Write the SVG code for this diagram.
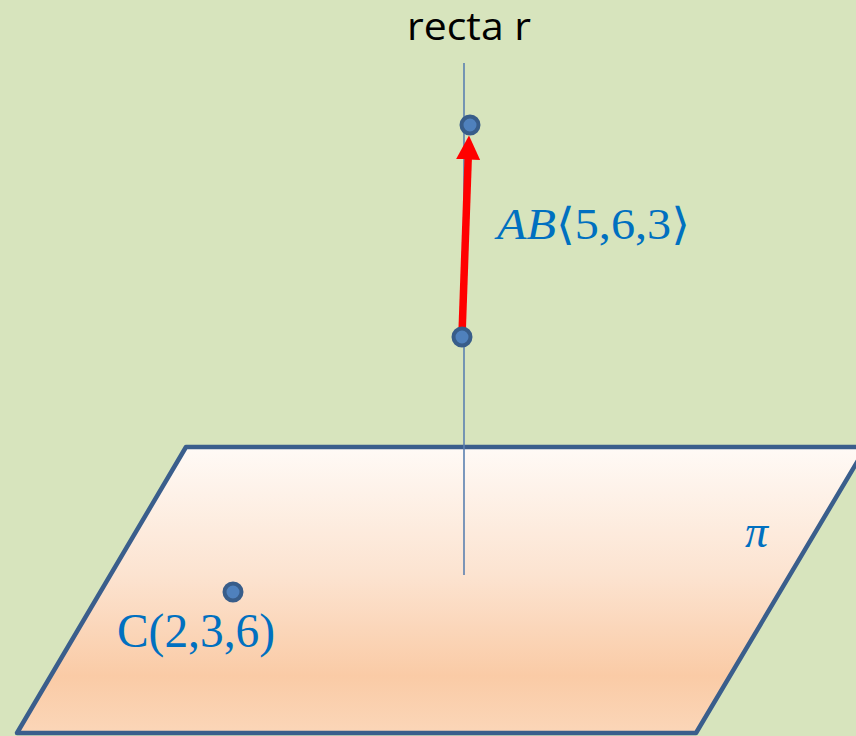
<svg xmlns="http://www.w3.org/2000/svg" width="856" height="736" viewBox="0 0 856 736">
<defs>
<linearGradient id="plane" x1="0" y1="0" x2="0" y2="1">
<stop offset="0" stop-color="#fffaf6"/>
<stop offset="0.45" stop-color="#fce3d0"/>
<stop offset="0.8" stop-color="#facba6"/>
<stop offset="1" stop-color="#fbd6b8"/>
</linearGradient>
<marker id="head" markerWidth="3.2" markerHeight="3.2" refX="0.2" refY="1.6" orient="auto" markerUnits="strokeWidth">
<path d="M0,0 L3.2,1.6 L0,3.2 Z" fill="#ff0000"/>
</marker>
<style>
.pt{fill:#4f81bd;stroke:#385d8a;stroke-width:4}
.lbl{fill:#0070c0}
</style>
</defs>
<rect width="856" height="736" fill="#d7e4bd"/>
<g id="plane-pi">
<path d="M186,447 L866,447 L696,733 L17,733 Z" fill="url(#plane)" stroke="#3a5e8c" stroke-width="4.5" stroke-linejoin="round"/>
<text x="745" y="547" class="lbl" font-family="Liberation Serif, serif" font-style="italic" font-size="46">π</text>
</g>
<g id="connectors">
<line x1="464" y1="63" x2="464" y2="575" stroke="#5b80b0" stroke-width="1.6"/>
<line x1="462" y1="335" x2="468.2" y2="158" stroke="#ff0000" stroke-width="7.5" marker-end="url(#head)"/>
</g>
<g id="line-r">
<text x="469" y="40" text-anchor="middle" font-family="Open Sans, sans-serif" font-size="38" fill="#000" textLength="124" lengthAdjust="spacingAndGlyphs">recta r</text>
</g>
<g id="point-B">
<circle cx="470" cy="125" r="8.5" class="pt"/>
</g>
<g id="point-A">
<circle cx="462" cy="337" r="8.5" class="pt"/>
</g>
<g id="vector-AB">
<text x="497" y="239" class="lbl" font-family="Liberation Serif, DejaVu Serif, serif" font-size="44" textLength="193" lengthAdjust="spacingAndGlyphs"><tspan font-style="italic">AB</tspan>⟨5,6,3⟩</text>
</g>
<g id="point-C">
<circle cx="233" cy="592" r="8.5" class="pt"/>
<text x="117" y="647" class="lbl" font-family="Liberation Serif, serif" font-size="48" textLength="158" lengthAdjust="spacingAndGlyphs">C(2,3,6)</text>
</g>
</svg>
